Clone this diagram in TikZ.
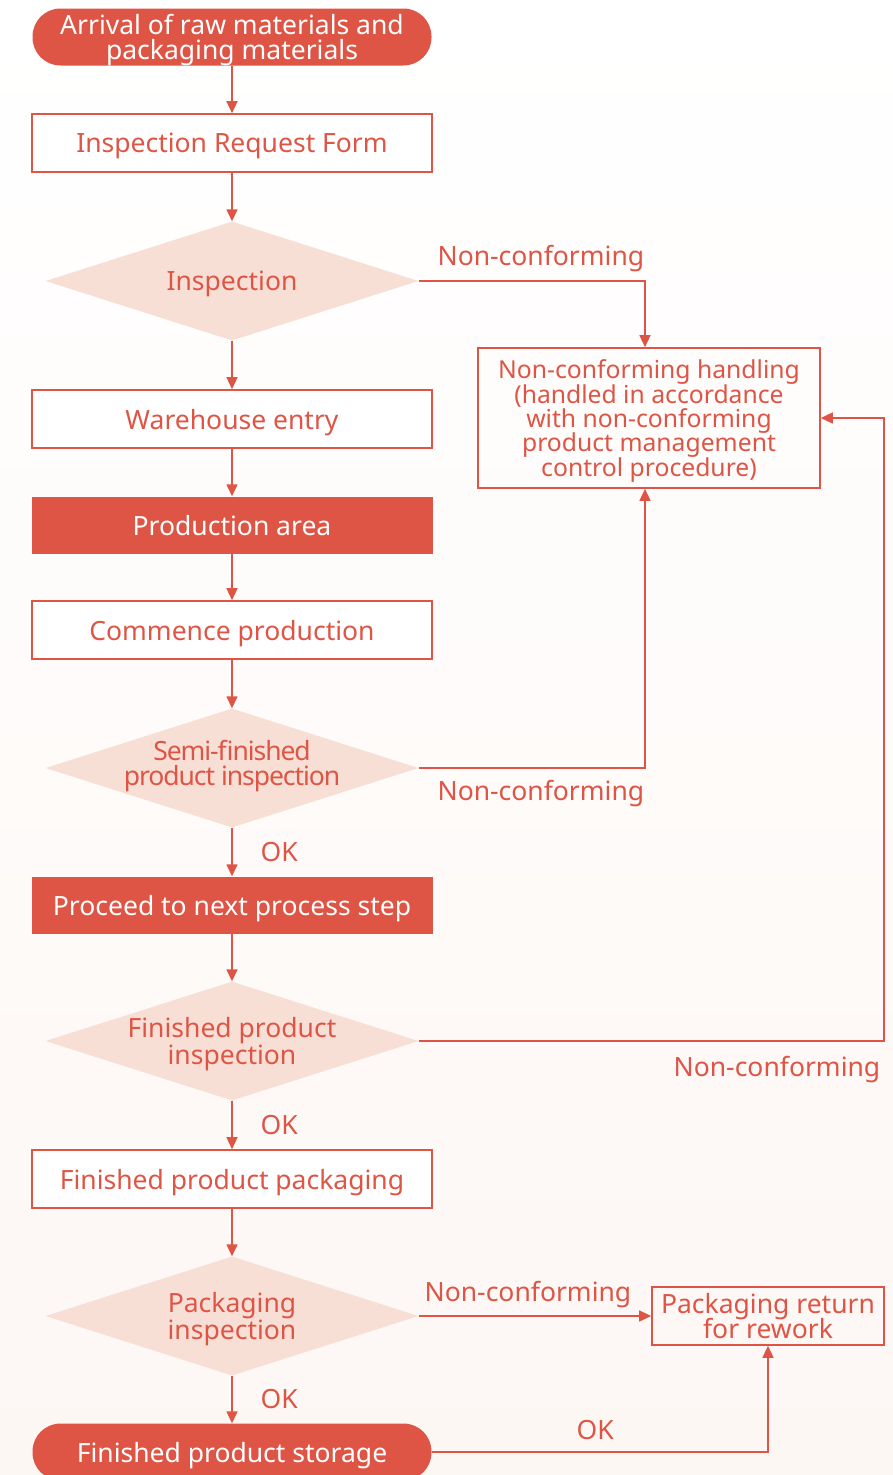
\documentclass[tikz,border=0pt]{standalone}
\usepackage{fontspec}
\setmainfont{Noto Sans}
\usepackage{tikz}
\usetikzlibrary{shapes.geometric,arrows.meta}
\definecolor{fcred}{HTML}{DE5545}
\definecolor{fcpink}{HTML}{F8DFD6}
\definecolor{fcbg}{HTML}{FDF7F4}

\begin{document}
\lineskiplimit=-20pt
\begin{tikzpicture}[x=1pt,y=-1pt,
    every node/.style={font=\fontsize{26.5}{25}\selectfont, text=fcred},
    startstop/.style={rectangle, rounded corners=28pt, fill=fcred, text=white, minimum width=399pt, minimum height=57pt, inner sep=0pt, align=center, text depth=0pt},
    procbox/.style={rectangle, draw=fcred, line width=1.6pt, fill=white, minimum width=400pt, minimum height=58pt, inner sep=0pt, align=center, text depth=0pt},
    procfill/.style={rectangle, fill=fcred, text=white, minimum width=401pt, minimum height=57pt, inner sep=0pt, text depth=0pt},
    decision/.style={diamond, fill=fcpink, minimum width=373pt, minimum height=119pt, inner sep=0pt, aspect=3.13},
    decilbl/.style={align=center, text depth=0pt, font=\fontsize{26.5}{27}\selectfont},
    flow/.style={draw=fcred, line width=1.4pt, -{Triangle[length=12pt,width=11pt]}},
    edgelbl/.style={inner sep=0pt}]
  % background
  \shade[top color=white, bottom color=fcbg] (0,0) rectangle (893,1475);
  \useasboundingbox (0,0) rectangle (893,1475);

  % main column
  \node[startstop] (arrival) at (232,37) {Arrival of raw materials and\\packaging materials};
  \node[procbox] (request) at (232,143) {Inspection Request Form};
  \node[decision, label={[decilbl]center:{Inspection}}] (insp) at (232,281) {};
  \node[procbox] (warehouse) at (232,419) {Warehouse entry};
  \node[procfill] (area) at (232,525) {Production area};
  \node[procbox] (commence) at (232,630) {Commence production};
  \node[decision, label={[decilbl, yshift=5pt, font=\fontsize{26.5}{25}\selectfont\addfontfeatures{LetterSpace=-4}]center:{Semi-finished\\product inspection}}] (semi) at (232,768) {};
  \node[procfill] (nextstep) at (232,905) {Proceed to next process step};
  \node[decision, label={[decilbl]center:{Finished product\\inspection}}] (finins) at (232,1041) {};
  \node[procbox] (packaging) at (232,1179) {Finished product packaging};
  \node[decision, label={[decilbl]center:{Packaging\\inspection}}] (packins) at (232,1316) {};
  \node[startstop] (storage) at (232,1452) {Finished product storage};

  % side boxes
  \node[procbox, minimum width=342pt, minimum height=140pt, fill=none, font=\fontsize{24.7}{24.3}\selectfont] (handling) at (649,418)
    {Non-conforming handling\\(handled in accordance\\with non-conforming\\product management\\control procedure)};
  \node[procbox, minimum width=232pt, minimum height=58pt, fill=none] (rework) at (768,1316) {Packaging return\\for rework};

  % connectors
  \draw[flow] (arrival) -- (request);
  \draw[flow] (request) -- (insp);
  \draw[flow] (insp) -- (warehouse);
  \draw[flow] (warehouse) -- (area);
  \draw[flow] (area) -- (commence);
  \draw[flow] (commence) -- (semi);
  \draw[flow] (semi) -- (nextstep) node[midway, right=28pt, edgelbl] {OK};
  \draw[flow] (nextstep) -- (finins);
  \draw[flow] (finins) -- (packaging) node[midway, right=28pt, edgelbl] {OK};
  \draw[flow] (packaging) -- (packins);
  \draw[flow] (packins) -- (storage) node[midway, right=28pt, edgelbl] {OK};

  \draw[flow] (insp.east) -| ([xshift=-4pt]handling.north) node[pos=0.27, above=8pt, edgelbl] {Non-conforming};
  \draw[flow] (semi.east) -| ([xshift=-4pt]handling.south) node[pos=0.27, below=12pt, edgelbl] {Non-conforming};
  \coordinate (rightrail) at (884,1041);
  \draw[flow] (finins.east) -- (rightrail) node[pos=0.77, below=15pt, edgelbl] {Non-conforming} |- (handling.east);
  \draw[flow] (packins.east) -- (rework.west) node[pos=0.47, above=7pt, edgelbl] {Non-conforming};
  \draw[flow] (storage.east) -| (rework.south) node[pos=0.243, above=12pt, edgelbl] {OK};
\end{tikzpicture}
\end{document}
